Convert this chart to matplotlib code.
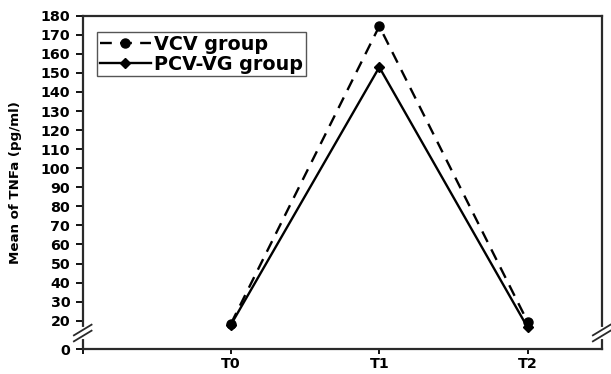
import numpy as np
import matplotlib
matplotlib.use("Agg")
import matplotlib.pyplot as plt
from matplotlib.scale import FuncScale

# data
times = ["T0", "T1", "T2"]
vcv = [18.5, 174.5, 19.5]
pcv_vg = [18.0, 153.0, 16.5]

y_ticks = [0, 20, 30, 40, 50, 60, 70, 80, 90, 100, 110, 120, 130, 140, 150, 160, 170, 180]

# broken y axis: squeeze 0..B into a short stretch of length S
B = 13.55
S = 8.4


def fwd(y):
    y = np.asarray(y, dtype=float)
    return np.where(y < B, y * S / B, y - B + S)


def inv(v):
    v = np.asarray(v, dtype=float)
    return np.where(v < S, v * B / S, v + B - S)


plt.rcParams['font.family'] = ['DejaVu Sans']
plt.rcParams['font.weight'] = 'bold'

fig = plt.figure(figsize=(6.11, 3.74), dpi=100)
ax = fig.add_axes([0.1354, 0.0668, 0.8494, 0.8912])

x = np.arange(len(times))
ax.plot(x, vcv, color='black', lw=1.7, ls=(0, (5, 3.5)), marker='o', ms=6.5,
        label='VCV group')
ax.plot(x, pcv_vg, color='black', lw=1.7, ls='-', marker='D', ms=5.5,
        label='PCV-VG group')

ax.set_yscale(FuncScale(ax, (fwd, inv)))
ax.set_ylim(0, 180)
ax.set_xlim(-1, 2.5)
ax.set_yticks(y_ticks)
ax.set_xticks([-1, 0, 1, 2])
ax.set_xticklabels(['', 'T0', 'T1', 'T2'])
ax.tick_params(axis='y', direction='out', length=5, width=1.3, labelsize=10.3, pad=4)
ax.tick_params(axis='x', direction='out', length=3.5, width=1.3, labelsize=10.3, pad=2.5)
ax.tick_params(right=False, top=False)
for sp in ax.spines.values():
    sp.set_linewidth(1.6)
    sp.set_color('#2a2a2a')

ax.set_ylabel('Mean of TNFa (pg/ml)', fontsize=9.6, fontweight='bold')
ax.yaxis.set_label_coords(-0.117, 0.5)

# break marks on both side spines
ybrk = S / fwd(180)
for xs in (0, 1):
    ax.plot([xs, xs], [ybrk - 0.011, ybrk + 0.011], transform=ax.transAxes,
            color='white', lw=3, clip_on=False, zorder=5)
    for dy in (-0.009, 0.009):
        ax.plot([xs - 0.017, xs + 0.017], [ybrk + dy - 0.016, ybrk + dy + 0.016],
                transform=ax.transAxes, color='#2a2a2a', lw=1.3,
                clip_on=False, zorder=6)

leg = ax.legend(loc='upper left', bbox_to_anchor=(0.027, 0.952), fontsize=13.8,
                handlelength=2.7, handletextpad=0.15, borderpad=0.15,
                labelspacing=0.05, borderaxespad=0, fancybox=False,
                framealpha=1, edgecolor='#555555')
leg.get_frame().set_linewidth(1.0)

fig.savefig('out.png', dpi=100)
